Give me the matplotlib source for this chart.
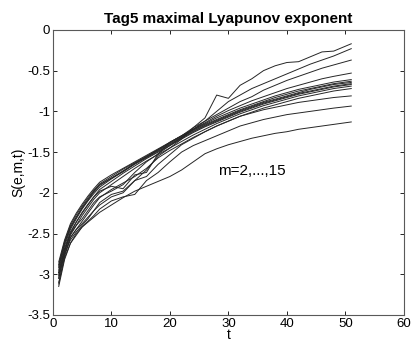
import matplotlib
matplotlib.use("Agg")
import matplotlib.pyplot as plt

plt.rcParams['font.family'] = ['Liberation Sans', 'DejaVu Sans']

t = [1, 2, 3, 4, 5, 6, 7, 8, 10, 12, 14, 16, 18, 20, 22, 24, 26, 28, 30,
     32, 34, 36, 38, 40, 42, 44, 46, 48, 51]

s_a = [-3.12, -2.78, -2.55, -2.45, -2.38, -2.30, -2.22, -2.15, -2.05, -2.00, -1.85, -1.72, -1.55, -1.45,
       -1.34, -1.20, -1.08, -0.80, -0.84, -0.68, -0.60, -0.50, -0.44, -0.40, -0.39, -0.33, -0.27, -0.26, -0.17]
s_b = [-3.05, -2.72, -2.50, -2.40, -2.32, -2.22, -2.12, -2.05, -1.98, -1.90, -1.75, -1.62, -1.52, -1.42,
       -1.32, -1.22, -1.12, -1.00, -0.88, -0.80, -0.72, -0.66, -0.60, -0.54, -0.48, -0.42, -0.37, -0.32, -0.23]
s_c = [-2.98, -2.68, -2.48, -2.36, -2.25, -2.15, -2.05, -1.98, -1.92, -1.95, -1.78, -1.75, -1.52, -1.38,
       -1.30, -1.20, -1.12, -1.04, -0.96, -0.88, -0.82, -0.74, -0.68, -0.62, -0.57, -0.52, -0.47, -0.43, -0.37]
s_d = [-2.90, -2.62, -2.42, -2.30, -2.18, -2.08, -1.98, -1.90, -1.82, -1.74, -1.64, -1.56, -1.47, -1.38,
       -1.30, -1.22, -1.14, -1.06, -0.99, -0.93, -0.87, -0.82, -0.77, -0.72, -0.68, -0.64, -0.60, -0.57, -0.53]
s_e = [-2.85, -2.58, -2.38, -2.25, -2.14, -2.04, -1.95, -1.87, -1.78, -1.70, -1.62, -1.54, -1.46, -1.38,
       -1.30, -1.22, -1.15, -1.08, -1.02, -0.96, -0.91, -0.86, -0.81, -0.77, -0.73, -0.70, -0.67, -0.64, -0.61]
s_f = [-2.88, -2.60, -2.40, -2.27, -2.16, -2.06, -1.97, -1.89, -1.80, -1.71, -1.63, -1.55, -1.47, -1.39,
       -1.31, -1.23, -1.16, -1.10, -1.04, -0.98, -0.93, -0.88, -0.83, -0.79, -0.75, -0.72, -0.69, -0.66, -0.63]
s_g = [-2.92, -2.62, -2.43, -2.30, -2.19, -2.09, -1.99, -1.91, -1.82, -1.73, -1.64, -1.56, -1.48, -1.40,
       -1.32, -1.24, -1.17, -1.11, -1.05, -0.99, -0.94, -0.89, -0.85, -0.81, -0.77, -0.73, -0.70, -0.67, -0.645]
s_h = [-2.95, -2.65, -2.45, -2.32, -2.20, -2.10, -2.01, -1.93, -1.83, -1.74, -1.65, -1.57, -1.49, -1.41,
       -1.33, -1.25, -1.18, -1.12, -1.06, -1.00, -0.95, -0.90, -0.86, -0.82, -0.78, -0.75, -0.72, -0.69, -0.66]
s_i = [-2.98, -2.70, -2.50, -2.36, -2.24, -2.14, -2.05, -1.96, -1.86, -1.76, -1.67, -1.58, -1.50, -1.42,
       -1.34, -1.26, -1.19, -1.13, -1.07, -1.01, -0.96, -0.91, -0.87, -0.83, -0.79, -0.76, -0.73, -0.70, -0.67]
s_j = [-3.02, -2.72, -2.52, -2.40, -2.28, -2.18, -2.08, -2.00, -1.90, -1.80, -1.70, -1.61, -1.53, -1.45,
       -1.37, -1.29, -1.22, -1.15, -1.09, -1.03, -0.98, -0.93, -0.89, -0.85, -0.81, -0.78, -0.75, -0.72, -0.69]
s_k = [-3.05, -2.75, -2.55, -2.45, -2.35, -2.25, -2.15, -2.06, -1.96, -1.88, -1.80, -1.70, -1.57, -1.48,
       -1.40, -1.32, -1.25, -1.18, -1.12, -1.06, -1.01, -0.96, -0.92, -0.88, -0.84, -0.81, -0.78, -0.75, -0.72]
s_l = [-3.00, -2.75, -2.58, -2.48, -2.40, -2.32, -2.22, -2.12, -2.02, -1.98, -1.85, -1.80, -1.65, -1.53,
       -1.41, -1.33, -1.25, -1.18, -1.12, -1.06, -1.02, -0.98, -0.95, -0.92, -0.89, -0.87, -0.85, -0.83, -0.81]
s_m = [-3.10, -2.80, -2.62, -2.52, -2.42, -2.35, -2.28, -2.20, -2.10, -2.05, -2.02, -1.85, -1.75, -1.62,
       -1.50, -1.42, -1.36, -1.30, -1.24, -1.18, -1.14, -1.10, -1.07, -1.04, -1.02, -1.00, -0.98, -0.96, -0.935]
s_n = [-3.15, -2.82, -2.62, -2.50, -2.42, -2.36, -2.30, -2.24, -2.15, -2.06, -1.98, -1.92, -1.86, -1.80,
       -1.72, -1.62, -1.52, -1.46, -1.41, -1.37, -1.33, -1.30, -1.27, -1.25, -1.22, -1.20, -1.18, -1.16, -1.13]

series = [s_a, s_b, s_c, s_d, s_e, s_f, s_g, s_h, s_i, s_j, s_k, s_l, s_m, s_n]

xticks = [0, 10, 20, 30, 40, 50, 60]
yticks = [0, -0.5, -1, -1.5, -2, -2.5, -3, -3.5]
ytick_labels = ['0', '-0.5', '-1', '-1.5', '-2', '-2.5', '-3', '-3.5']

fig = plt.figure(figsize=(4.13, 3.48), dpi=100)
ax = fig.add_axes([0.128, 0.095, 0.850, 0.819])

for s in series:
    ax.plot(t, s, color='0.15', lw=0.7)

ax.set_xlim(0, 60)
ax.set_ylim(-3.5, 0)
ax.set_xticks(xticks)
ax.set_yticks(yticks)
ax.set_yticklabels(ytick_labels)
ax.tick_params(direction='in', top=True, right=True, length=3, width=0.6,
               labelsize=9.5, pad=2, colors='black')
for sp in ax.spines.values():
    sp.set_linewidth(0.8)
    sp.set_color('0.35')

ax.set_title('Tag5 maximal Lyapunov exponent', fontsize=11, fontweight='bold', pad=5)
ax.set_xlabel('t', fontsize=10, labelpad=-1)
ax.set_ylabel('S(e,m,t)', fontsize=10, labelpad=1)
ax.text(28.3, -1.73, 'm=2,...,15', fontsize=11, va='center', ha='left')

fig.savefig('out.png', dpi=100)
